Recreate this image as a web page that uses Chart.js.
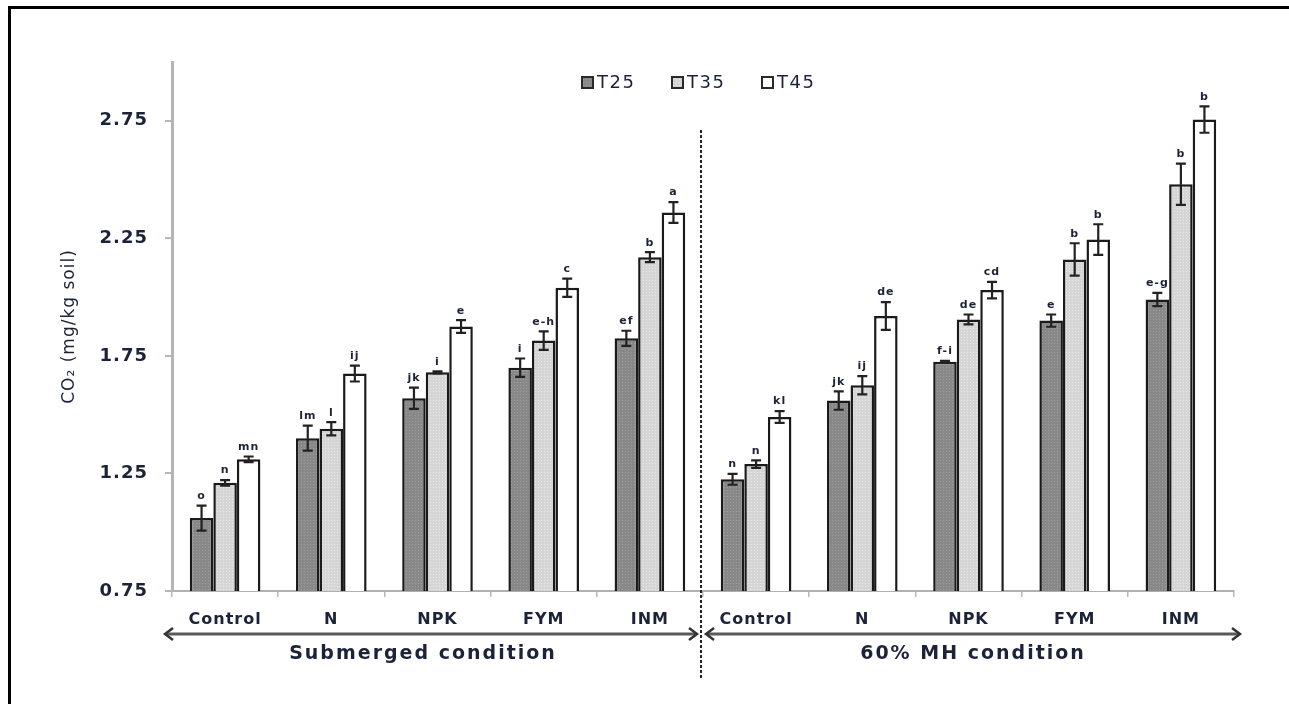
<!DOCTYPE html>
<html><head><meta charset="utf-8">
<script src="https://cdn.jsdelivr.net/npm/chart.js@4.4.1/dist/chart.umd.min.js"></script>
<style>
html,body{margin:0;padding:0;background:#fff;}
#wrap{position:relative;width:1289px;height:704px;overflow:hidden;}
#frame{position:absolute;left:8px;top:6px;right:-10px;bottom:-10px;border-top:3px solid #000;border-left:3px solid #000;}
canvas{position:absolute;left:0;top:0;}
</style></head><body>
<div id="wrap"><div id="frame"></div><canvas id="c" width="1289" height="704"></canvas></div>
<script>
// ---- data ----
const categories = ['Control','N','NPK','FYM','INM','Control','N','NPK','FYM','INM'];
const groups = ['Submerged condition','60% MH condition'];
const groupSizes = [5,5];
const seriesNames = ['T25','T35','T45'];
const t25 = [1.06, 1.40, 1.57, 1.70, 1.825, 1.225, 1.56, 1.725, 1.90, 1.99];
const t35 = [1.21, 1.44, 1.68, 1.815, 2.17, 1.29, 1.625, 1.905, 2.16, 2.48];
const t45 = [1.31, 1.675, 1.875, 2.04, 2.36, 1.49, 1.92, 2.03, 2.245, 2.755];
const err25 = [0.053, 0.053, 0.045, 0.039, 0.032, 0.023, 0.039, 0.004, 0.026, 0.028];
const err35 = [0.012, 0.028, 0.004, 0.039, 0.021, 0.016, 0.039, 0.021, 0.069, 0.088];
const err45 = [0.012, 0.034, 0.027, 0.039, 0.044, 0.025, 0.059, 0.035, 0.065, 0.056];
const let25 = ['o','lm','jk','i','ef','n','jk','f-i','e','e-g'];
const let35 = ['n','l','i','e-h','b','n','ij','de','b','b'];
const let45 = ['mn','ij','e','c','a','kl','de','cd','b','b'];
const yTicks = [0.75, 1.25, 1.75, 2.25, 2.75];
const yMin = 0.75, yMax = 3.0;
const yTitle = 'CO\u2082 (mg/kg soil)';

// ---- styling helpers ----
const ink = '#1c2338';
function dotted(base, dot){
  const c = document.createElement('canvas'); c.width = 3; c.height = 3;
  const g = c.getContext('2d');
  g.fillStyle = base; g.fillRect(0,0,3,3);
  g.fillStyle = dot; g.fillRect(1,1,1,1);
  return g.createPattern(c,'repeat');
}
const fills = [dotted('#888888','#9e9e9e'), dotted('#d5d5d5','#e8e8e8'), '#ffffff'];

const errorBars = {
  id: 'errorBars',
  afterDatasetsDraw(chart){
    const ctx = chart.ctx, y = chart.scales.y;
    chart.data.datasets.forEach((ds,i)=>{
      const meta = chart.getDatasetMeta(i);
      meta.data.forEach((bar,j)=>{
        const v = ds.data[j], e = ds.errors[j];
        const yt = y.getPixelForValue(v+e), yb = y.getPixelForValue(v-e);
        ctx.save();
        ctx.strokeStyle = '#222'; ctx.lineWidth = 2.2;
        ctx.beginPath();
        ctx.moveTo(bar.x, yt); ctx.lineTo(bar.x, yb);
        ctx.moveTo(bar.x-5, yt); ctx.lineTo(bar.x+5, yt);
        ctx.moveTo(bar.x-5, yb); ctx.lineTo(bar.x+5, yb);
        ctx.stroke();
        ctx.font = 'bold 11px "DejaVu Sans"';
        ctx.fillStyle = ink; ctx.textAlign = 'center'; ctx.textBaseline = 'bottom';
        ctx.fillText(ds.letters[j], bar.x, yt-4);
        ctx.restore();
      });
    });
  }
};

const legendBox = {
  id: 'legendBox',
  afterDraw(chart){
    const ctx = chart.ctx, ca = chart.chartArea;
    const cx = (ca.left + ca.right) / 2, cy = ca.top + 21;
    const pitch = 90, start = cx - 121;
    ctx.save();
    chart.data.datasets.forEach((ds,i)=>{
      const x = start + i*pitch;
      ctx.fillStyle = ds.backgroundColor;
      ctx.fillRect(x, cy-6, 11, 11);
      ctx.strokeStyle = '#2a2a2a'; ctx.lineWidth = 2;
      ctx.strokeRect(x, cy-6, 11, 11);
      ctx.letterSpacing = '1.5px';
      ctx.font = '18px "DejaVu Sans"'; ctx.fillStyle = ink;
      ctx.textAlign = 'left'; ctx.textBaseline = 'middle';
      ctx.fillText(ds.label, x + 15, cy);
    });
    ctx.restore();
  }
};

const groupAxis = {
  id: 'groupAxis',
  beforeDraw(chart){ chart.ctx.letterSpacing = '1px'; },
  afterDraw(chart){
    const ctx = chart.ctx, xs = chart.scales.x, ca = chart.chartArea;
    const w = (xs.right - xs.left) / categories.length;
    let start = 0;
    const bounds = groupSizes.map(s => { const b = [xs.left + start*w, xs.left + (start+s)*w]; start += s; return b; });
    const mid = bounds[0][1];
    ctx.save();
    ctx.setLineDash([3,2]); ctx.strokeStyle = '#222'; ctx.lineWidth = 2;
    ctx.beginPath(); ctx.moveTo(mid-2, ca.top+68); ctx.lineTo(mid-2, ca.bottom+89); ctx.stroke();
    ctx.setLineDash([]);
    const ay = ca.bottom + 43;
    const arrows = [[bounds[0][0]-7, mid-6], [mid+3, bounds[1][1]+6]];
    arrows.forEach(([x1,x2], k)=>{
      ctx.strokeStyle = '#5a5a5a'; ctx.lineWidth = 3;
      ctx.beginPath(); ctx.moveTo(x1+2, ay); ctx.lineTo(x2-2, ay); ctx.stroke();
      ctx.strokeStyle = '#333'; ctx.lineWidth = 2.5;
      ctx.beginPath();
      ctx.moveTo(x1+8, ay-6); ctx.lineTo(x1, ay); ctx.lineTo(x1+8, ay+6);
      ctx.moveTo(x2-8, ay-6); ctx.lineTo(x2, ay); ctx.lineTo(x2-8, ay+6);
      ctx.stroke();
      ctx.letterSpacing = '2px';
      ctx.font = 'bold 19px "DejaVu Sans"'; ctx.fillStyle = ink;
      ctx.textAlign = 'center'; ctx.textBaseline = 'middle';
      ctx.fillText(groups[k], (x1+x2)/2 - (k===0 ? 8 : 0), ca.bottom + 63);
    });
    ctx.restore();
  }
};

const seriesValues = [t25, t35, t45];
const seriesErr = [err25, err35, err45];
const seriesLet = [let25, let35, let45];

new Chart(document.getElementById('c'), {
  type: 'bar',
  data: {
    labels: categories,
    datasets: seriesNames.map((name,i)=>({
      label: name,
      data: seriesValues[i],
      errors: seriesErr[i],
      letters: seriesLet[i],
      backgroundColor: fills[i],
      borderColor: '#1a1a1a',
      borderWidth: 2.5,
      borderSkipped: false,
      categoryPercentage: 0.665,
      barPercentage: 1.0
    }))
  },
  options: {
    responsive: false,
    animation: false,
    devicePixelRatio: 1,
    layout: { padding: { top: 62, right: 55, left: 0, bottom: 0 } },
    plugins: {
      legend: { display: false },
      tooltip: { enabled: false }
    },
    scales: {
      x: {
        grid: { display: true, drawOnChartArea: false, drawTicks: true, tickLength: 6, color: '#b8b8b8', lineWidth: 1.5, offset: true },
        border: { display: true, color: '#b0b0b0', width: 2 },
        ticks: { color: ink, padding: 13, maxRotation: 0, autoSkip: false,
                 font: { family: '"DejaVu Sans"', size: 16, weight: 'bold' } },
        afterFit(s){ s.height = 113; }
      },
      y: {
        min: yMin, max: yMax,
        afterBuildTicks(s){ s.ticks = yTicks.map(v=>({value:v})); },
        grid: { display: true, drawOnChartArea: false, drawTicks: true, tickLength: 7, color: '#b8b8b8', lineWidth: 2 },
        border: { display: true, color: '#b5b5b5', width: 3 },
        ticks: { color: ink, padding: 17, callback: v => Number(v).toFixed(2),
                 font: { family: '"DejaVu Sans"', size: 18, weight: 'bold' } },
        title: { display: true, text: yTitle, color: ink, padding: { top: 59, bottom: 0 },
                 font: { family: '"DejaVu Sans"', size: 17 } },
        afterFit(s){ s.width = 172; }
      }
    }
  },
  plugins: [errorBars, legendBox, groupAxis]
});
</script>
</body></html>
